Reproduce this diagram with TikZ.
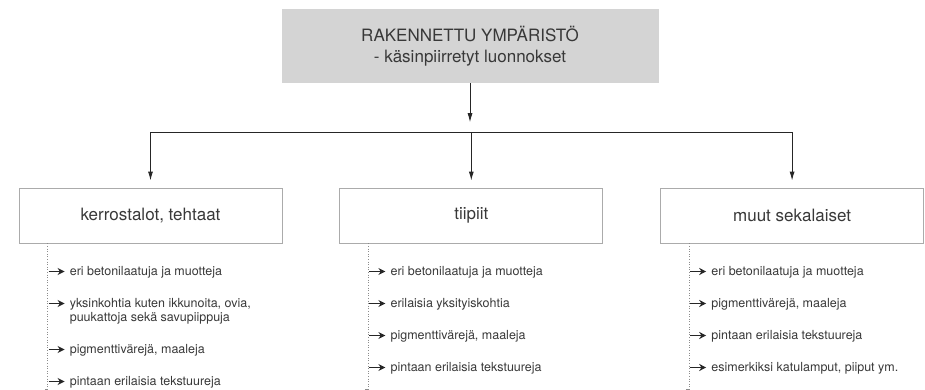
\documentclass[tikz,border=0pt]{standalone}
\usepackage{fontspec}
\setmainfont{TeX Gyre Heros}
\usetikzlibrary{positioning,arrows.meta}
\definecolor{txtgray}{HTML}{383838}
\definecolor{boxfill}{HTML}{D4D4D4}
\definecolor{boxline}{HTML}{ABABAB}
\begin{document}
\begin{tikzpicture}[x=1pt,y=1pt,
  topbox/.style={fill=boxfill,draw=none,minimum width=377pt,minimum height=74pt,
    align=center,text=txtgray,font=\fontsize{17}{21}\selectfont},
  catbox/.style={draw=boxline,line width=0.8pt,minimum width=263pt,minimum height=55pt,
    text=txtgray,font=\fontsize{17}{20}\selectfont},
  item/.style={anchor=base west,inner sep=0pt,align=left,text=txtgray,
    font=\fontsize{12.5}{14}\selectfont},
  conn/.style={draw=black!85,line width=0.9pt,-{Latex[length=9pt,width=5pt]}},
  bus/.style={draw=black!85,line width=0.9pt},
  bullet/.style={draw=black!85,line width=1.5pt,-{Stealth[length=7pt,width=7pt]}},
  guide/.style={draw=black!45,line width=0.6pt,dotted}]
\useasboundingbox (0,0) rectangle (925,390);

% boxes
\node[topbox] (top) at (470,344) {RAKENNETTU YMPÄRISTÖ\\- käsinpiirretyt luonnokset};
\node[catbox] (cat1) at (150.5,174.5) {kerrostalot, tehtaat};
\node[catbox,right=57pt of cat1] (cat2) {tiipiit};
\node[catbox,right=57pt of cat2] (cat3) {muut sekalaiset};

% connectors
\path (top.south) ++(0,-49) coordinate (split);
\draw[conn] (top.south) -- ([yshift=10pt]split);
\draw[bus] (split -| cat1.north) -- (split -| cat3.north);
\foreach \c in {cat1,cat2,cat3}
  \draw[conn] (split -| \c.north) -- ([yshift=7pt]\c.north);

% guide lines
\foreach \c in {cat1,cat2,cat3}{
  \draw[guide] ([xshift=29pt]\c.south west) -- ++(0,-146);
  \draw[draw=black!45,line width=0.6pt] ([xshift=29pt,yshift=-146pt]\c.south west) -- ++(-3,0);
}

% items (base = last line)
\foreach \n/\yy/\txt in {
  k1/114/{eri betonilaatuja ja muotteja},
  k2/68/{yksinkohtia kuten ikkunoita, ovia,\\puukattoja sekä savupiippuja},
  k3/36/{pigmenttivärejä, maaleja},
  k4/4/{pintaan erilaisia tekstuureja}}
  \node[item] (\n) at ([xshift=51pt]cat1.west |- 0,\yy) {\txt};
\foreach \n/\yy/\txt in {
  t1/114/{eri betonilaatuja ja muotteja},
  t2/82/{erilaisia yksityiskohtia},
  t3/50/{pigmenttivärejä, maaleja},
  t4/18/{pintaan erilaisia tekstuureja}}
  \node[item] (\n) at ([xshift=51pt]cat2.west |- 0,\yy) {\txt};
\foreach \n/\yy/\txt in {
  m1/114/{eri betonilaatuja ja muotteja},
  m2/82/{pigmenttivärejä, maaleja},
  m3/50/{pintaan erilaisia tekstuureja},
  m4/18/{esimerkiksi katulamput, piiput ym.}}
  \node[item] (\n) at ([xshift=51pt]cat3.west |- 0,\yy) {\txt};

% bullets
\foreach \yy in {114,82,36,4}
  \draw[bullet] ([xshift=30pt]cat1.west |- 0,\yy+4.5) -- ++(16,0);
\foreach \yy in {114,82,50,18}
  \draw[bullet] ([xshift=30pt]cat2.west |- 0,\yy+4.5) -- ++(16,0);
\foreach \yy in {114,82,50,18}
  \draw[bullet] ([xshift=30pt]cat3.west |- 0,\yy+4.5) -- ++(16,0);
\end{tikzpicture}
\end{document}
